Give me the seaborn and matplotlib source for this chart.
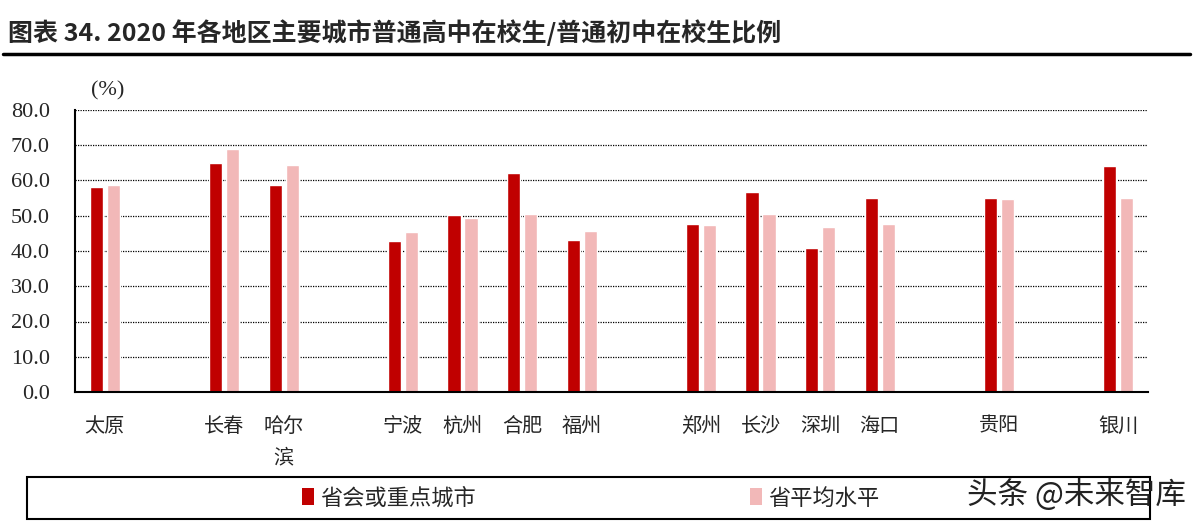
import numpy as np
import pandas as pd
import matplotlib
matplotlib.use('Agg')
import matplotlib.pyplot as plt
import seaborn as sns
from matplotlib.patches import Rectangle, Patch
from matplotlib.lines import Line2D

# data (slots with None are empty gaps on the axis)
cities = ['太原', None, '长春', '哈尔\n滨', None, '宁波', '杭州', '合肥', '福州', None,
          '郑州', '长沙', '深圳', '海口', None, '贵阳', None, '银川']
capital = [58.1, None, 65.0, 58.6, None, 42.9, 50.1, 62.0, 43.2, None,
           47.6, 56.7, 40.9, 55.0, None, 55.1, None, 64.2]
province = [58.6, None, 68.8, 64.3, None, 45.5, 49.4, 50.6, 45.7, None,
            47.5, 50.5, 46.9, 47.6, None, 54.7, None, 54.9]
series_names = ['省会或重点城市', '省平均水平']
colors = ['#C00000', '#F2B8B8']

slots = [c if c is not None else f'_gap{i}' for i, c in enumerate(cities)]
rows = []
for s, a, b in zip(slots, capital, province):
    if a is not None:
        rows.append({'city': s, 'series': series_names[0], 'value': a})
        rows.append({'city': s, 'series': series_names[1], 'value': b})
df = pd.DataFrame(rows)

sns.set_style('white')
plt.rcParams['font.family'] = ['Liberation Serif', 'Noto Sans CJK SC', 'DejaVu Sans']
cjk = ['Noto Sans CJK SC', 'DejaVu Sans']

fig = plt.figure(figsize=(11.98, 5.26), dpi=100)
ax = fig.add_axes([75 / 1198, 134 / 526, (1148 - 75) / 1198, (392 - 110) / 526])

sns.barplot(data=df, x='city', y='value', hue='series', order=slots,
            hue_order=series_names, palette=colors, width=0.57, gap=0.22,
            errorbar=None, legend=False, ax=ax, saturation=1)

ax.set_xlim(-0.5, len(slots) - 0.5)
ax.set_ylim(0, 80)
ax.set_yticks(np.arange(0, 81, 10))
ax.set_yticklabels([f'{v:.1f}' for v in np.arange(0, 81, 10)], fontsize=16)
ax.yaxis.grid(True, linestyle=(0, (1, 1)), color='black', linewidth=0.9)
ax.set_axisbelow(True)
ax.tick_params(axis='y', direction='out', length=5, width=1.5, color='black', pad=13)

ax.set_xticks(range(len(slots)))
ax.set_xticklabels([c if c is not None else '' for c in cities], fontsize=14.5,
                   family=cjk, linespacing=1.65, va='top')
ax.set_xticks(np.arange(-0.5, len(slots), 1), minor=True)
ax.tick_params(axis='x', which='major', length=0, pad=17)
ax.tick_params(axis='x', which='minor', direction='out', length=6, width=1.5, color='black')
ax.set_xlabel('')
ax.set_ylabel('')

for side in ['top', 'right']:
    ax.spines[side].set_visible(False)
for side in ['left', 'bottom']:
    ax.spines[side].set_color('black')
    ax.spines[side].set_linewidth(1.5)

fig.text(91 / 1198, 1 - 91 / 526, '(%)', fontsize=16, va='center', ha='left')

# title and rule
fig.text(8 / 1198, 1 - 33 / 526,
         '图表 34. 2020 年各地区主要城市普通高中在校生/普通初中在校生比例',
         fontsize=18, fontweight='bold', family=cjk, va='center', ha='left')
fig.add_artist(Line2D([3 / 1198, 1190 / 1198], [1 - 54 / 526, 1 - 54 / 526],
                      color='black', linewidth=2.5, transform=fig.transFigure))

# legend box
fig.add_artist(Rectangle((27 / 1198, 1 - 519 / 526), (1150 - 27) / 1198, 42 / 526,
                         transform=fig.transFigure, fill=False, edgecolor='black',
                         linewidth=1.5))
handles = [Patch(facecolor=c, edgecolor='none') for c in colors]
fig.legend(handles, series_names, loc='center', bbox_to_anchor=(0.493, 1 - 498 / 526),
           ncol=2, frameon=False, prop={'family': cjk, 'size': 16},
           handlelength=0.55, handleheight=0.8, handletextpad=0.3, columnspacing=12.3)

fig.text(1186 / 1198, 1 - 495 / 526, '头条 @未来智库', fontsize=22, family=cjk,
         ha='right', va='center', color='#222222')

fig.savefig('out.png', dpi=100)
